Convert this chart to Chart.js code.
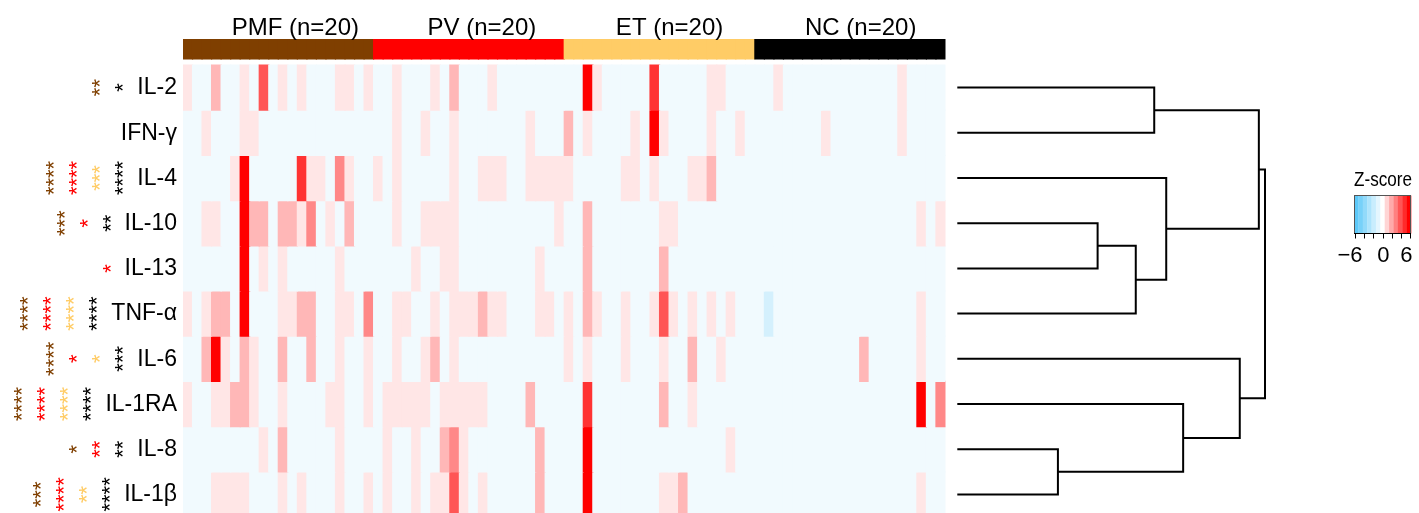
<!DOCTYPE html>
<html><head><meta charset="utf-8">
<script src="https://cdn.jsdelivr.net/npm/chart.js@4.4.1/dist/chart.umd.min.js"></script>
<style>
html,body{margin:0;padding:0;background:#fff;overflow:hidden;width:1419px;height:513px}
#a{position:absolute;left:0;top:0}
#b{position:absolute;left:950px;top:0}
</style></head><body>
<canvas id="a" width="950" height="518"></canvas>
<canvas id="b" width="469" height="518"></canvas>
<script>
// ---------------- data ----------------
const groups = ['PMF','PV','ET','NC'];
const groupSizes = [20,20,20,20];
const groupColors = ['#7F3F00','#FF0000','#FFCC66','#000000'];
const cytokines = ['IL-2','IFN-γ','IL-4','IL-10','IL-13','TNF-α','IL-6','IL-1RA','IL-8','IL-1β'];

// z-scores per cytokine, columns: PMF1-20, PV1-20, ET1-20, NC1-20
const IL2 = [
 .6,-.5,-.5,1.7,-.5,-.5,.6,-.5,4,-.5,.6,-.5,.6,-.5,-.5,-.5,.6,.6,-.5,.6,
 -.5,-.5,.6,-.5,-.5,-.5,.6,-.5,1.7,-.5,-.5,-.5,.6,-.5,-.5,-.5,-.5,-.5,-.5,-.5,
 -.5,-.5,6.2,.6,-.5,-.5,-.5,-.5,-.5,4.8,-.5,-.5,-.5,-.5,-.5,.6,.6,-.5,-.5,-.5,
 -.5,-.5,.6,-.5,-.5,-.5,-.5,-.5,-.5,-.5,-.5,-.5,-.5,-.5,-.5,.6,-.5,-.5,-.5,-.5];
const IFNG = [
 -.5,-.5,.6,-.5,-.5,-.5,.6,.6,-.5,-.5,-.5,-.5,-.5,-.5,-.5,-.5,-.5,-.5,-.5,-.5,
 -.5,-.5,.6,-.5,-.5,.6,-.5,-.5,.6,-.5,-.5,-.5,-.5,-.5,-.5,-.5,.6,-.5,-.5,-.5,
 1.7,-.5,.6,-.5,-.5,-.5,-.5,.6,-.5,6.2,.6,-.5,-.5,-.5,-.5,.6,-.5,-.5,.6,-.5,
 -.5,-.5,-.5,-.5,-.5,-.5,-.5,.6,-.5,-.5,-.5,-.5,-.5,-.5,-.5,.6,-.5,-.5,-.5,-.5];
const IL4 = [
 -.5,-.5,-.5,-.5,-.5,.6,6.2,-.5,-.5,-.5,-.5,-.5,4.8,.6,.6,-.5,2.8,.6,-.5,-.5,
 .6,-.5,.6,-.5,-.5,-.5,-.5,-.5,.6,-.5,-.5,.6,.6,.6,-.5,-.5,.6,.6,.6,.6,
 .6,-.5,-.5,-.5,-.5,-.5,.6,.6,-.5,.6,-.5,-.5,-.5,.6,.6,1.7,-.5,-.5,-.5,-.5,
 -.5,-.5,-.5,-.5,-.5,-.5,-.5,-.5,-.5,-.5,-.5,-.5,-.5,-.5,-.5,-.5,-.5,-.5,-.5,-.5];
const IL10 = [
 -.5,-.5,.6,.6,-.5,-.5,6.2,1.7,1.7,-.5,1.7,1.7,.6,2.8,-.5,.6,-.5,1.7,-.5,-.5,
 -.5,-.5,.6,-.5,-.5,.6,.6,.6,.6,-.5,-.5,-.5,-.5,-.5,-.5,-.5,-.5,-.5,-.5,.6,
 -.5,-.5,1.7,-.5,-.5,-.5,-.5,-.5,-.5,-.5,.6,.6,-.5,-.5,-.5,-.5,-.5,-.5,-.5,-.5,
 -.5,-.5,-.5,-.5,-.5,-.5,-.5,-.5,-.5,-.5,-.5,-.5,-.5,-.5,-.5,-.5,-.5,.6,-.5,.6];
const IL13 = [
 -.5,-.5,-.5,-.5,-.5,-.5,6.2,-.5,.6,-.5,.6,-.5,-.5,-.5,-.5,-.5,.6,-.5,-.5,-.5,
 -.5,-.5,-.5,-.5,.6,-.5,-.5,.6,.6,-.5,-.5,-.5,-.5,-.5,-.5,-.5,-.5,.6,-.5,-.5,
 -.5,-.5,1.7,-.5,-.5,-.5,-.5,-.5,-.5,-.5,1.7,-.5,-.5,-.5,-.5,-.5,-.5,-.5,-.5,-.5,
 -.5,-.5,-.5,-.5,-.5,-.5,-.5,-.5,-.5,-.5,-.5,-.5,-.5,-.5,-.5,-.5,-.5,-.5,-.5,-.5];
const TNFA = [
 .6,-.5,.6,1.7,1.7,-.5,6.2,-.5,-.5,-.5,.6,.6,1.7,1.7,-.5,-.5,.6,.6,-.5,2.8,
 -.5,-.5,.6,.6,-.5,-.5,.6,-.5,.6,.6,.6,1.7,.6,.6,-.5,-.5,-.5,.6,.6,-.5,
 .6,-.5,1.7,.6,-.5,-.5,.6,-.5,-.5,.6,4,.6,-.5,.6,-.5,.6,-.5,.6,-.5,-.5,
 -.5,-1.6,-.5,-.5,-.5,-.5,-.5,-.5,-.5,-.5,-.5,-.5,-.5,-.5,-.5,-.5,-.5,.6,-.5,-.5];
const IL6 = [
 -.5,-.5,1.7,6.2,.6,-.5,1.7,.6,-.5,-.5,1.7,-.5,-.5,1.7,-.5,-.5,.6,-.5,-.5,.6,
 -.5,-.5,.6,-.5,-.5,.6,1.7,-.5,.6,-.5,-.5,-.5,-.5,-.5,-.5,-.5,-.5,-.5,-.5,-.5,
 .6,-.5,.6,-.5,-.5,-.5,.6,-.5,-.5,-.5,.6,-.5,-.5,1.7,-.5,-.5,.6,-.5,-.5,-.5,
 -.5,-.5,-.5,-.5,-.5,-.5,-.5,-.5,-.5,-.5,-.5,1.7,-.5,-.5,-.5,-.5,-.5,.6,-.5,-.5];
const IL1RA = [
 .6,-.5,-.5,.6,.6,1.7,1.7,.6,-.5,-.5,.6,-.5,-.5,-.5,-.5,.6,.6,-.5,-.5,.6,
 -.5,.6,.6,.6,.6,.6,-.5,.6,.6,.6,.6,.6,-.5,-.5,-.5,-.5,1.7,-.5,-.5,-.5,
 -.5,-.5,4.8,-.5,-.5,-.5,-.5,-.5,-.5,-.5,1.7,-.5,-.5,.6,-.5,-.5,-.5,-.5,-.5,-.5,
 -.5,-.5,-.5,-.5,-.5,-.5,-.5,-.5,-.5,-.5,-.5,-.5,-.5,-.5,-.5,-.5,-.5,6.2,-.5,2.8];
const IL8 = [
 -.5,-.5,-.5,-.5,-.5,-.5,-.5,-.5,.6,-.5,1.7,-.5,-.5,-.5,-.5,-.5,.6,-.5,-.5,-.5,
 -.5,.6,-.5,-.5,.6,-.5,-.5,1.7,2.8,.6,-.5,-.5,-.5,-.5,-.5,-.5,-.5,1.7,-.5,-.5,
 -.5,-.5,6.2,-.5,-.5,-.5,-.5,-.5,-.5,-.5,-.5,-.5,-.5,-.5,-.5,-.5,-.5,.6,-.5,-.5,
 -.5,-.5,-.5,-.5,-.5,-.5,-.5,-.5,-.5,-.5,-.5,-.5,-.5,-.5,-.5,-.5,-.5,-.5,-.5,-.5];
const IL1B = [
 -.5,-.5,-.5,.6,.6,.6,.6,-.5,-.5,-.5,.6,-.5,.6,-.5,-.5,-.5,.6,-.5,-.5,.6,
 -.5,.6,-.5,-.5,.6,-.5,.6,.6,4,.6,-.5,.6,-.5,-.5,-.5,-.5,-.5,1.7,-.5,-.5,
 -.5,-.5,6.2,-.5,-.5,-.5,-.5,-.5,-.5,-.5,.6,.6,1.7,-.5,-.5,-.5,-.5,-.5,-.5,-.5,
 -.5,-.5,-.5,-.5,-.5,-.5,-.5,-.5,-.5,-.5,-.5,-.5,-.5,-.5,-.5,-.5,-.5,.6,-.5,-.5];

// significance stars per cytokine (number of asterisks) for each comparison colour
const starsPMF = [2,0,4,3,0,4,4,4,1,3];
const starsPV  = [0,0,4,1,1,4,1,4,2,4];
const starsET  = [0,0,3,0,0,4,1,4,0,2];
const starsNC  = [1,0,4,2,0,4,3,4,2,4];

// row dendrogram (hclust style: negative = leaf, positive = earlier merge)
const mergeA = [-1,-4,2,-3,1,-9,-8,-7,5];
const mergeB = [-2,-5,-6,3,4,-10,6,7,8];
const mergeHeight = [6.40,4.56,5.80,6.79,9.80,3.27,7.34,9.18,10.0];

// colour key
const zKeyMin = -6, zKeyMax = 6;
const zTickValues = [-6,-4,-2,0,2,4,6];
const zLabelValues = [-6,0,6];
const zLabelText = ['\u22126','0','6'];

// ---------------- layout constants ----------------
const FONT = '"Liberation Sans", Arial, Helvetica, sans-serif';
const BAR_TOP = -0.575, BAR_BOT = -0.133;
const Y_MIN = -0.575, Y_MAX = 10;
const headerShift = [17,13,10,10.5];
const zLabelShift = [-5,0.7,-4];

function zColor(z){
  z = Math.max(zKeyMin, Math.min(zKeyMax, z));
  let t, c;
  if (z < 0) { t = -z/6; c = [92,200,248]; } else { t = z/6; c = [255,0,0]; }
  const r = Math.round(255 + (c[0]-255)*t), g = Math.round(255 + (c[1]-255)*t), b = Math.round(255 + (c[2]-255)*t);
  return `rgb(${r},${g},${b})`;
}

const rows = [IL2, IFNG, IL4, IL10, IL13, TNFA, IL6, IL1RA, IL8, IL1B];
const samples = [], sampleGroup = [];
groups.forEach((g,gi)=>{ for (let i=1;i<=groupSizes[gi];i++){ samples.push(g+i); sampleGroup.push(gi); } });

const common = {grouped:false, categoryPercentage:1, barPercentage:1, borderWidth:0, inflateAmount:0.6};
const heatSets = rows.map((vals,r)=>({label:cytokines[r], data: vals.map(()=>[r, r+1]), backgroundColor: vals.map(zColor), ...common}));
heatSets.push({label:'group', data: samples.map(()=>[BAR_TOP, BAR_BOT]), backgroundColor: sampleGroup.map(g=>groupColors[g]), ...common});

const annotPlugin = {
  id:'annot',
  afterDraw(chart){
    const ctx = chart.ctx, xs = chart.scales.x, ys = chart.scales.y;
    ctx.save();
    ctx.fillStyle = '#000';
    // group headers
    ctx.font = '24px ' + FONT; ctx.textAlign = 'center'; ctx.textBaseline = 'alphabetic';
    let start = 0;
    groups.forEach((g,gi)=>{
      const x0 = xs.getPixelForValue(start), x1 = xs.getPixelForValue(start+groupSizes[gi]-1);
      ctx.fillText(`${g} (n=${groupSizes[gi]})`, (x0+x1)/2 + headerShift[gi], 35);
      start += groupSizes[gi];
    });
    // row labels and stars
    const starSets = [starsPMF, starsPV, starsET, starsNC];
    const labelRight = xs.left - 6;
    cytokines.forEach((name,r)=>{
      const yc = ys.getPixelForValue(r+0.5);
      ctx.font = '23px ' + FONT; ctx.textAlign = 'right'; ctx.textBaseline = 'alphabetic'; ctx.fillStyle = '#000';
      ctx.fillText(name, labelRight, yc + 6.8);
      const w = ctx.measureText(name).width;
      let x = labelRight - w - 18;
      for (let g = 3; g >= 0; g--) {
        const n = starSets[g][r];
        if (!n) continue;
        ctx.save();
        ctx.font = '22px ' + FONT;
        const m = ctx.measureText('*');
        const tyc = (m.actualBoundingBoxDescent - m.actualBoundingBoxAscent)/2;
        ctx.translate(x - tyc, yc);
        ctx.rotate(-Math.PI/2);
        ctx.textAlign = 'center'; ctx.textBaseline = 'alphabetic';
        ctx.fillStyle = groupColors[g];
        ctx.fillText('*'.repeat(n), 0, 0);
        ctx.restore();
        x -= 23;
      }
    });
    ctx.restore();
  }
};

new Chart(document.getElementById('a'), {
  type:'bar',
  data:{labels:samples, datasets:heatSets},
  options:{
    responsive:false, animation:false, devicePixelRatio:1,
    layout:{padding:{left:183, right:4.5, top:39, bottom:1}},
    plugins:{legend:{display:false}, tooltip:{enabled:false}},
    scales:{
      x:{type:'category', display:false, offset:true, grid:{display:false}},
      y:{type:'linear', display:false, min:Y_MIN, max:Y_MAX, reverse:true}
    }
  },
  plugins:[annotPlugin]
});

// ---------------- dendrogram ----------------
const nodeY = [];
function childPos(k){ return k < 0 ? {x:0, y:-k-0.5} : {x:mergeHeight[k-1], y:nodeY[k-1]}; }
const dendroSets = mergeA.map((a,i)=>{
  const A = childPos(a), B = childPos(mergeB[i]);
  nodeY[i] = (A.y + B.y)/2;
  return {
    data:[{x:A.x,y:A.y},{x:mergeHeight[i],y:A.y},{x:mergeHeight[i],y:B.y},{x:B.x,y:B.y}],
    showLine:true, borderColor:'#000', borderWidth:2, pointRadius:0, tension:0, fill:false,
    clip:false, borderJoinStyle:'miter', borderCapStyle:'butt'
  };
});

const keyPlugin = {
  id:'zkey',
  afterDraw(chart){
    const ctx = chart.ctx;
    const left = 404, right = 461, top = 195.5, bottom = 233.5;
    const t0 = 405, t1 = 460.3;
    const zx = z => t0 + (z - zKeyMin)/(zKeyMax - zKeyMin)*(t1 - t0);
    ctx.save();
    ctx.fillStyle = '#000';
    ctx.font = '21px ' + FONT; ctx.textAlign = 'left'; ctx.textBaseline = 'alphabetic';
    ctx.fillText('Z-score', left, 186, 58);
    const nb = 13, bw = (right-left)/nb;
    for (let k=0;k<nb;k++){
      ctx.fillStyle = zColor(zKeyMin + k*(zKeyMax-zKeyMin)/(nb-1));
      ctx.fillRect(left + k*bw, top, bw + 0.3, bottom-top);
    }
    ctx.strokeStyle = '#555'; ctx.lineWidth = 1;
    ctx.strokeRect(left+0.5, top, right-left-1, bottom-top);
    ctx.strokeStyle = '#000';
    ctx.beginPath();
    ctx.moveTo(left, bottom); ctx.lineTo(right, bottom);
    zTickValues.forEach(v=>{ const x = Math.round(zx(v))+0.5; ctx.moveTo(x,bottom); ctx.lineTo(x,bottom+5); });
    ctx.stroke();
    ctx.fillStyle = '#000';
    ctx.font = '22px ' + FONT; ctx.textAlign = 'center';
    zLabelValues.forEach((v,i)=>ctx.fillText(zLabelText[i], zx(v) + zLabelShift[i], 262));
    ctx.restore();
  }
};

new Chart(document.getElementById('b'), {
  type:'scatter',
  data:{datasets:dendroSets},
  options:{
    responsive:false, animation:false, devicePixelRatio:1,
    layout:{padding:{left:7.3, right:154, top:39, bottom:1}},
    plugins:{legend:{display:false}, tooltip:{enabled:false}},
    scales:{
      x:{type:'linear', display:false, min:0, max:10},
      y:{type:'linear', display:false, min:Y_MIN, max:Y_MAX, reverse:true}
    }
  },
  plugins:[keyPlugin]
});
</script>
</body></html>
